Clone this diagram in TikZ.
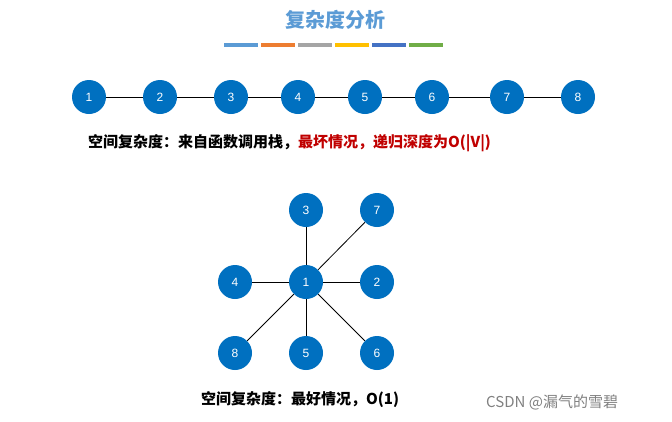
\documentclass[tikz,border=0pt]{standalone}
\usepackage{fontspec}
\setmainfont{Liberation Sans}
\newfontfamily\cjk{Noto Sans CJK SC}
\definecolor{nodeblue}{RGB}{0,112,192}
\definecolor{titleblue}{RGB}{91,155,213}
\definecolor{c1}{RGB}{91,155,213}
\definecolor{c2}{RGB}{237,125,49}
\definecolor{c3}{RGB}{165,165,165}
\definecolor{c4}{RGB}{255,192,0}
\definecolor{c5}{RGB}{68,114,196}
\definecolor{c6}{RGB}{112,173,71}
\begin{document}
\begin{tikzpicture}[x=1pt,y=-1pt,
  v/.style={circle,fill=nodeblue,minimum size=34pt,inner sep=0pt,text=white,font=\fontsize{12}{12}\selectfont},
  e/.style={draw=black,line width=0.8pt}]
\useasboundingbox (0,0) rectangle (672,421);
\node[font=\cjk\bfseries\fontsize{20}{20}\selectfont,text=titleblue] (title) at (335,20) {复杂度分析};
\foreach \i in {1,...,6}{
  \fill[c\i] ({224+(\i-1)*37},43) rectangle ({224+(\i-1)*37+34},47);
}
\foreach \n/\x in {1/89,2/160,3/231,4/298,5/365,6/432,7/507,8/578}{
  \node[v] (a\n) at (\x,97) {\n};
}
\foreach \p/\q in {1/2,2/3,3/4,4/5,5/6,6/7,7/8}{ \draw[e] (a\p) -- (a\q); }
\node[anchor=west,font=\cjk\bfseries\fontsize{15}{15}\selectfont,inner sep=0pt] (t1) at (88,143) {空间复杂度：来自函数调用栈，\textcolor[RGB]{192,0,0}{最坏情况，递归深度为O(|V|)}};
\node[v] (b1) at (306,282) {1};
\node[v] (b3) at (306,210) {3};
\node[v] (b7) at (377,210) {7};
\node[v] (b4) at (235,282) {4};
\node[v] (b2) at (377,282) {2};
\node[v] (b8) at (235,353) {8};
\node[v] (b5) at (306,353) {5};
\node[v] (b6) at (377,353) {6};
\foreach \q in {3,7,4,2,8,5,6}{ \draw[e] (b1) -- (b\q); }
\node[anchor=west,font=\cjk\bfseries\fontsize{15}{15}\selectfont,inner sep=0pt] (t2) at (201,400) {空间复杂度：最好情况，O(1)};
\node[anchor=west,font=\cjk\fontsize{15}{15}\selectfont,text=gray,inner sep=0pt] (wm) at (486,402) {CSDN @漏气的雪碧};
\end{tikzpicture}
\end{document}
